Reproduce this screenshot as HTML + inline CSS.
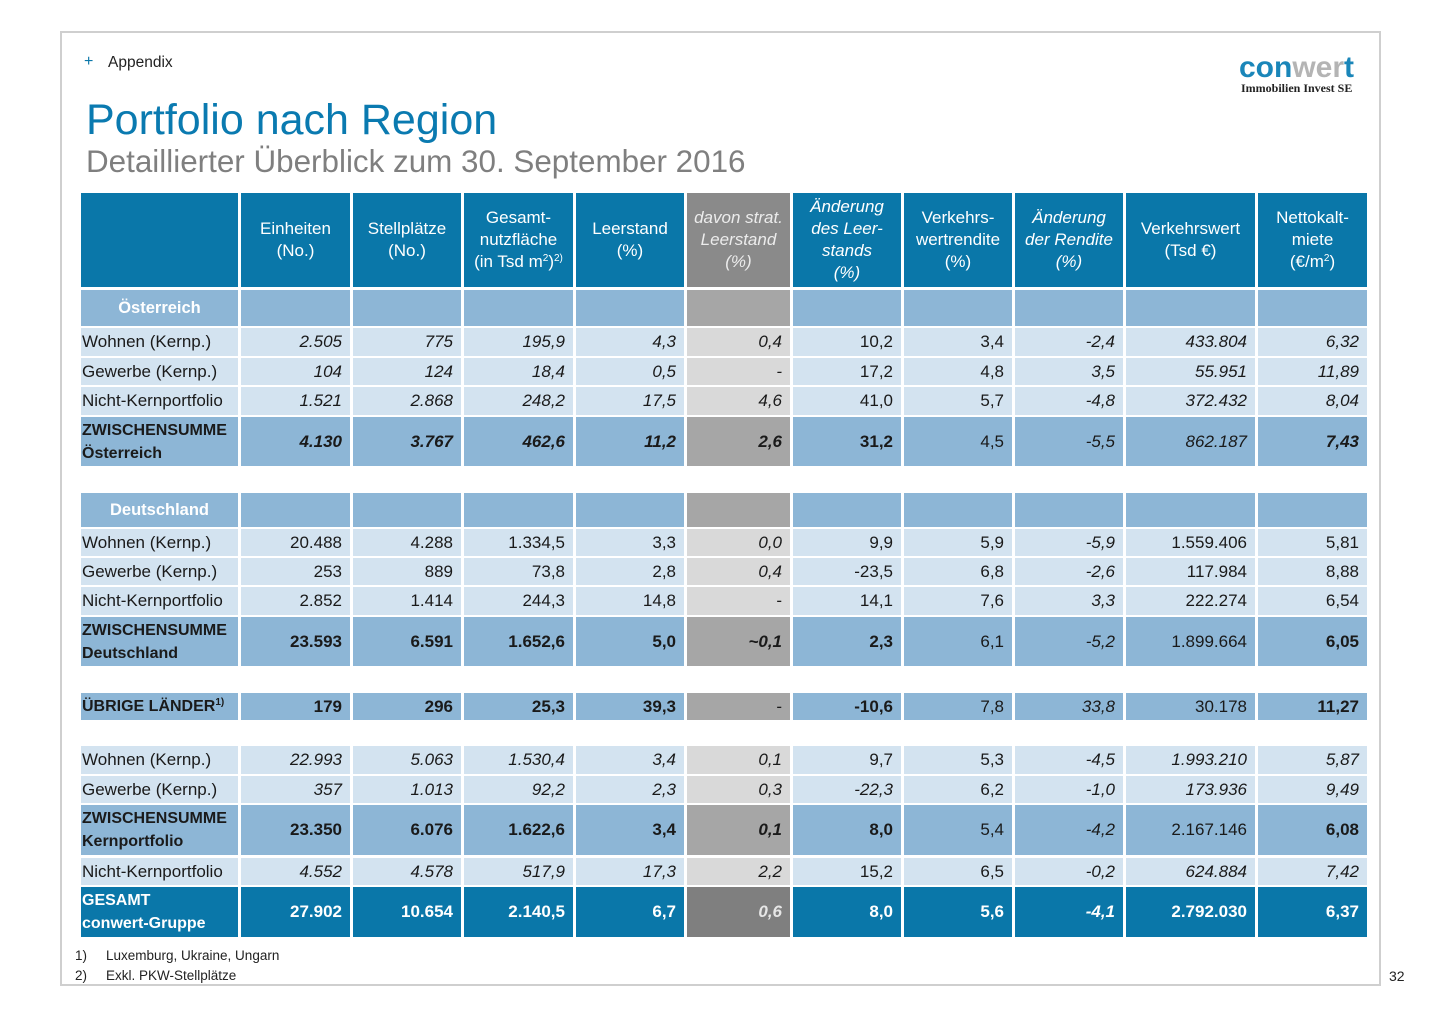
<!DOCTYPE html>
<html><head><meta charset="utf-8">
<style>
*{margin:0;padding:0;box-sizing:border-box}
html,body{width:1440px;height:1019px;background:#fff;overflow:hidden}
body{position:relative;font-family:"Liberation Sans",sans-serif;color:#1a1a1a}
.frame{position:absolute;left:60px;top:31px;width:1321px;height:955px;border:2px solid #cfcfcf}
.abs{position:absolute;white-space:nowrap}
.r{position:absolute;left:81px;display:flex;gap:3px}
.c{height:100%;display:flex;align-items:center;justify-content:flex-end;padding-right:8px;font-size:17px;white-space:nowrap}
.c:nth-child(1){width:157px;justify-content:flex-start;padding:0 0 0 1px}
.c:nth-child(2){width:109px}
.c:nth-child(3){width:108px}
.c:nth-child(4){width:109px}
.c:nth-child(5){width:108px}
.c:nth-child(6){width:103px}
.c:nth-child(7){width:108px}
.c:nth-child(8){width:108px}
.c:nth-child(9){width:108px}
.c:nth-child(10){width:129px}
.c:nth-child(11){width:109px}
.hd .c{background:#0a77a9;color:#fff;justify-content:center;text-align:center;padding:0;line-height:22px;font-size:17px}
.hd .c:nth-child(6){background:#8a8a8a;color:#ececec}
.sec .c{background:#8db6d6}
.sec .c:nth-child(6){background:#a6a6a6}
.sec .c:nth-child(1){justify-content:center;color:#fff;font-weight:bold;font-size:16.5px;padding:0}
.d .c{background:#d3e3f0}
.d .c:nth-child(6){background:#d9d9d9}
.s .c{background:#8db6d6}
.s .c:nth-child(6){background:#a6a6a6}
.s .c:nth-child(1){font-weight:bold;font-size:16px;line-height:23px}
.g .c{background:#0a77a9;color:#fff;font-weight:bold}
.g .c:nth-child(6){background:#7f7f7f;color:#e6e6e6}
.g .c:nth-child(1){font-size:16px;line-height:23px}
.i{font-style:italic}
.b{font-weight:bold}
sup{font-size:10px;line-height:0;vertical-align:6px}
</style></head><body>
<div class="frame"></div>

<div class="abs" style="left:84px;top:53px;font-size:16px;color:#0a77a9">+</div>
<div class="abs" style="left:108px;top:54px;font-size:15.5px;color:#222">Appendix</div>
<div class="abs" style="left:86px;top:95px;font-size:43px;color:#0a7ab0;line-height:50px">Portfolio nach Region</div>
<div class="abs" style="left:86px;top:143px;font-size:31.4px;color:#7f7f7f;line-height:38px">Detaillierter Überblick zum 30. September 2016</div>

<div class="abs" style="left:1239px;top:50px;font-size:30px;font-weight:bold;letter-spacing:0px;line-height:36px"><span style="color:#1a86b9">con</span><span style="color:#b4b4b4">wer</span><span style="color:#1a86b9">t</span></div>
<div class="abs" style="left:1241px;top:81px;font-family:'Liberation Serif',serif;font-weight:bold;font-size:12px;color:#222">Immobilien Invest SE</div>

<!-- header -->
<div class="r hd" style="top:193px;height:94px">
<div class="c"></div>
<div class="c"><span>Einheiten<br>(No.)</span></div>
<div class="c"><span>Stellplätze<br>(No.)</span></div>
<div class="c"><span>Gesamt-<br>nutzfläche<br>(in Tsd m<sup>2</sup>)<sup>2)</sup></span></div>
<div class="c"><span>Leerstand<br>(%)</span></div>
<div class="c i"><span>davon strat.<br>Leerstand<br>(%)</span></div>
<div class="c i"><span>Änderung<br>des Leer-<br>stands<br>(%)</span></div>
<div class="c"><span>Verkehrs-<br>wertrendite<br>(%)</span></div>
<div class="c i"><span>Änderung<br>der Rendite<br>(%)</span></div>
<div class="c"><span>Verkehrswert<br>(Tsd €)</span></div>
<div class="c"><span>Nettokalt-<br>miete<br>(€/m<sup>2</sup>)</span></div>
</div>

<!-- Österreich -->
<div class="r sec" style="top:290px;height:36px"><div class="c">Österreich</div><div class="c"></div><div class="c"></div><div class="c"></div><div class="c"></div><div class="c"></div><div class="c"></div><div class="c"></div><div class="c"></div><div class="c"></div><div class="c"></div></div>
<div class="r d" style="top:328px;height:28px"><div class="c">Wohnen (Kernp.)</div><div class="c i">2.505</div><div class="c i">775</div><div class="c i">195,9</div><div class="c i">4,3</div><div class="c i">0,4</div><div class="c">10,2</div><div class="c">3,4</div><div class="c i">-2,4</div><div class="c i">433.804</div><div class="c i">6,32</div></div>
<div class="r d" style="top:358px;height:27px"><div class="c">Gewerbe (Kernp.)</div><div class="c i">104</div><div class="c i">124</div><div class="c i">18,4</div><div class="c i">0,5</div><div class="c i">-</div><div class="c">17,2</div><div class="c">4,8</div><div class="c i">3,5</div><div class="c i">55.951</div><div class="c i">11,89</div></div>
<div class="r d" style="top:387px;height:28px"><div class="c">Nicht-Kernportfolio</div><div class="c i">1.521</div><div class="c i">2.868</div><div class="c i">248,2</div><div class="c i">17,5</div><div class="c i">4,6</div><div class="c">41,0</div><div class="c">5,7</div><div class="c i">-4,8</div><div class="c i">372.432</div><div class="c i">8,04</div></div>
<div class="r s" style="top:417px;height:49px"><div class="c"><span>ZWISCHENSUMME<br>Österreich</span></div><div class="c b i">4.130</div><div class="c b i">3.767</div><div class="c b i">462,6</div><div class="c b i">11,2</div><div class="c b i">2,6</div><div class="c b">31,2</div><div class="c">4,5</div><div class="c i">-5,5</div><div class="c i">862.187</div><div class="c b i">7,43</div></div>

<!-- Deutschland -->
<div class="r sec" style="top:493px;height:34px"><div class="c">Deutschland</div><div class="c"></div><div class="c"></div><div class="c"></div><div class="c"></div><div class="c"></div><div class="c"></div><div class="c"></div><div class="c"></div><div class="c"></div><div class="c"></div></div>
<div class="r d" style="top:529px;height:27px"><div class="c">Wohnen (Kernp.)</div><div class="c">20.488</div><div class="c">4.288</div><div class="c">1.334,5</div><div class="c">3,3</div><div class="c i">0,0</div><div class="c">9,9</div><div class="c">5,9</div><div class="c i">-5,9</div><div class="c">1.559.406</div><div class="c">5,81</div></div>
<div class="r d" style="top:558px;height:27px"><div class="c">Gewerbe (Kernp.)</div><div class="c">253</div><div class="c">889</div><div class="c">73,8</div><div class="c">2,8</div><div class="c i">0,4</div><div class="c">-23,5</div><div class="c">6,8</div><div class="c i">-2,6</div><div class="c">117.984</div><div class="c">8,88</div></div>
<div class="r d" style="top:587px;height:28px"><div class="c">Nicht-Kernportfolio</div><div class="c">2.852</div><div class="c">1.414</div><div class="c">244,3</div><div class="c">14,8</div><div class="c">-</div><div class="c">14,1</div><div class="c">7,6</div><div class="c i">3,3</div><div class="c">222.274</div><div class="c">6,54</div></div>
<div class="r s" style="top:617px;height:49px"><div class="c"><span>ZWISCHENSUMME<br>Deutschland</span></div><div class="c b">23.593</div><div class="c b">6.591</div><div class="c b">1.652,6</div><div class="c b">5,0</div><div class="c b i">~0,1</div><div class="c b">2,3</div><div class="c">6,1</div><div class="c i">-5,2</div><div class="c">1.899.664</div><div class="c b">6,05</div></div>

<!-- Übrige -->
<div class="r s" style="top:693px;height:27px"><div class="c"><span>ÜBRIGE LÄNDER<sup>1)</sup></span></div><div class="c b">179</div><div class="c b">296</div><div class="c b">25,3</div><div class="c b">39,3</div><div class="c">-</div><div class="c b">-10,6</div><div class="c">7,8</div><div class="c i">33,8</div><div class="c">30.178</div><div class="c b">11,27</div></div>

<!-- Kern -->
<div class="r d" style="top:746px;height:28px"><div class="c">Wohnen (Kernp.)</div><div class="c i">22.993</div><div class="c i">5.063</div><div class="c i">1.530,4</div><div class="c i">3,4</div><div class="c i">0,1</div><div class="c">9,7</div><div class="c">5,3</div><div class="c i">-4,5</div><div class="c i">1.993.210</div><div class="c i">5,87</div></div>
<div class="r d" style="top:776px;height:27px"><div class="c">Gewerbe (Kernp.)</div><div class="c i">357</div><div class="c i">1.013</div><div class="c i">92,2</div><div class="c i">2,3</div><div class="c i">0,3</div><div class="c i">-22,3</div><div class="c">6,2</div><div class="c i">-1,0</div><div class="c i">173.936</div><div class="c i">9,49</div></div>
<div class="r s" style="top:805px;height:50px"><div class="c"><span>ZWISCHENSUMME<br>Kernportfolio</span></div><div class="c b">23.350</div><div class="c b">6.076</div><div class="c b">1.622,6</div><div class="c b">3,4</div><div class="c b i">0,1</div><div class="c b">8,0</div><div class="c">5,4</div><div class="c i">-4,2</div><div class="c">2.167.146</div><div class="c b">6,08</div></div>
<div class="r d" style="top:858px;height:27px"><div class="c">Nicht-Kernportfolio</div><div class="c i">4.552</div><div class="c i">4.578</div><div class="c i">517,9</div><div class="c i">17,3</div><div class="c i">2,2</div><div class="c">15,2</div><div class="c">6,5</div><div class="c i">-0,2</div><div class="c i">624.884</div><div class="c i">7,42</div></div>
<div class="r g" style="top:887px;height:50px"><div class="c"><span>GESAMT<br>conwert-Gruppe</span></div><div class="c">27.902</div><div class="c">10.654</div><div class="c">2.140,5</div><div class="c">6,7</div><div class="c i">0,6</div><div class="c">8,0</div><div class="c">5,6</div><div class="c i">-4,1</div><div class="c">2.792.030</div><div class="c">6,37</div></div>

<div class="abs" style="left:75px;top:948px;font-size:13.5px;color:#222">1)</div>
<div class="abs" style="left:106px;top:948px;font-size:13.5px;color:#222">Luxemburg, Ukraine, Ungarn</div>
<div class="abs" style="left:75px;top:968px;font-size:13.5px;color:#222">2)</div>
<div class="abs" style="left:106px;top:968px;font-size:13.5px;color:#222">Exkl. PKW-Stellplätze</div>
<div class="abs" style="left:1389px;top:968px;font-size:14px;color:#222">32</div>
</body></html>
